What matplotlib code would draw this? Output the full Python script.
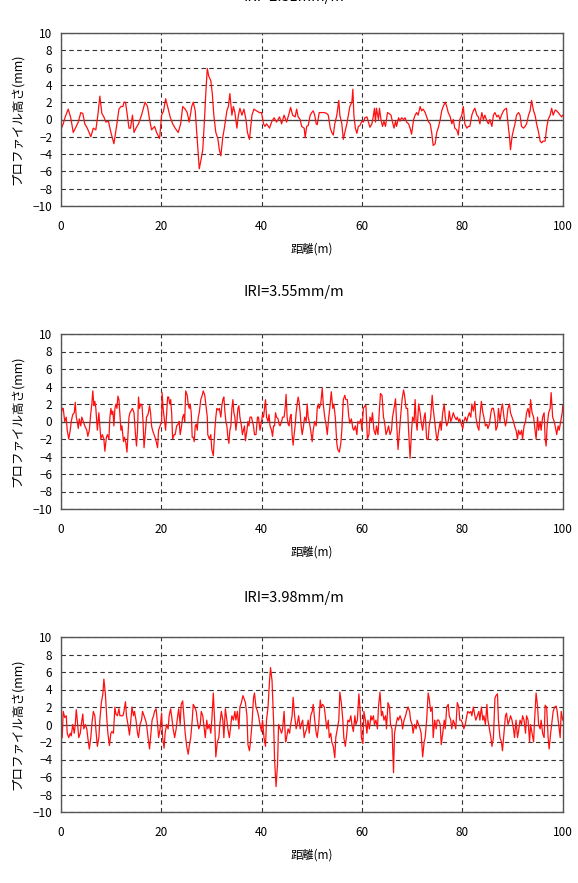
import matplotlib
matplotlib.use('Agg')
import matplotlib.pyplot as plt

plt.rcParams['font.family'] = ['Noto Sans CJK JP', 'DejaVu Sans']

# panel titles (the first one is cut off at the top edge in the source)
titles = ['IRI=2.31mm/m', 'IRI=3.55mm/m', 'IRI=3.98mm/m']
x_ticks = [0, 20, 40, 60, 80, 100]
y_ticks = [-10, -8, -6, -4, -2, 0, 2, 4, 6, 8, 10]

# profile 1 : distance (m) / height (mm)
dist_a = [0.0, 0.5, 0.9, 1.5, 2.0, 2.5, 3.1, 3.5, 4.0, 4.4,
          4.8, 5.3, 6.0, 6.5, 7.0, 7.4, 7.8, 8.2, 8.6, 9.0,
          9.5, 10.0, 10.6, 11.2, 11.6, 12.0, 12.4, 12.6, 12.9, 13.2,
          13.6, 13.9, 14.3, 14.6, 15.0, 15.5, 16.1, 16.8, 17.3, 17.7,
          18.1, 18.7, 19.1, 19.7, 20.1, 20.5, 20.9, 21.3, 21.8, 22.3,
          22.8, 23.4, 23.9, 24.3, 24.8, 25.2, 25.6, 26.1, 26.4, 26.8,
          27.1, 27.4, 27.6, 28.0, 28.3, 28.6, 28.9, 29.2, 29.5, 29.9,
          30.2, 30.5, 30.9, 31.3, 31.6, 31.9, 32.3, 32.6, 33.1, 33.4,
          33.7, 34.1, 34.4, 34.7, 35.1, 35.4, 35.7, 36.1, 36.5, 36.9,
          37.2, 37.6, 38.1, 38.5, 39.0, 39.6, 40.0, 40.4, 40.7, 41.0,
          41.6, 42.0, 42.5, 43.0, 43.6, 44.0, 44.5, 45.0, 45.4, 45.8,
          46.2, 46.7, 47.0, 47.3, 47.7,
          48.0, 48.5, 48.7, 49.0, 49.3, 49.7, 50.0, 50.3, 50.6, 50.9,
          51.1, 51.5, 52.0, 52.5, 53.0, 53.3, 53.7, 54.0, 54.3, 54.6,
          55.0, 55.4, 55.6, 56.0, 56.3, 56.6, 57.0, 57.3, 57.6, 58.0,
          58.2, 58.4, 58.7, 59.0, 59.3, 59.6, 60.0, 60.3, 60.6, 61.0,
          61.3, 61.6, 62.0, 62.3, 62.5, 62.7, 62.9, 63.3, 63.5, 63.8,
          64.1, 64.4, 64.7, 65.1, 65.4, 65.8, 66.1, 66.4, 66.7, 66.9,
          67.3, 67.6, 67.9, 68.3, 68.6, 68.9, 69.3, 69.6, 69.9, 70.3,
          70.6, 70.9, 71.2, 71.6, 71.9, 72.2, 72.6, 72.9, 73.2, 73.6,
          73.9, 74.2, 74.6, 74.9, 75.2, 75.6, 75.9, 76.2, 76.6, 76.9,
          77.2, 77.6, 77.9, 78.2, 78.5, 78.9, 79.2, 79.5, 79.9, 80.2,
          80.5, 80.9, 81.2, 81.5, 81.9, 82.2, 82.5, 82.9, 83.2, 83.5,
          83.9, 84.2, 84.5, 84.9, 85.2, 85.5, 85.9, 86.2, 86.5, 86.9,
          87.2, 87.5, 87.8, 88.2, 88.5, 88.8, 89.2, 89.4, 89.6, 89.9,
          90.2, 90.5, 90.8, 91.2, 91.5, 91.8, 92.2, 92.5, 92.8, 93.2,
          93.5, 93.8, 94.2, 94.5, 94.8, 95.2, 95.5, 95.8, 96.1, 96.5,
          96.8, 97.1, 97.5, 97.8, 98.1, 98.5, 98.8, 99.1, 99.5, 99.8,
          100.0]
height_a = [-1.2, -0.5, 0.3, 1.2, 0.2, -1.5, -0.8, -0.3, 0.8, 0.7,
            -0.5, -1.0, -2.0, -1.0, -1.2, 0.5, 2.7, 0.7, 0.3, -0.3,
            -0.2, -1.5, -2.8, -0.5, 1.2, 1.5, 1.5, 2.0, 2.0, 0.8,
            -1.0, -1.0, 0.5, -1.5, -1.0, -0.5, 0.5, 2.0, 1.5, 0.0,
            -1.2, -0.8, -1.5, -2.2, 0.5, 1.0, 2.4, 1.5, 0.3, -0.5,
            -1.0, -1.5, -0.5, 1.5, 1.2, 0.8, -0.3, 1.5, 2.0, 1.0,
            -1.5, -4.0, -5.7, -4.5, -3.5, -0.5, 3.0, 5.9, 5.0, 4.5,
            3.0, 0.5, -1.5, -2.2, -3.5, -4.2, -2.0, -1.0, 1.0, 1.5,
            3.0, 0.5, 1.5, 0.8, -1.0, 0.5, 1.3, 0.5, 1.2, 0.0,
            -1.5, -2.3, 0.5, 1.2, 1.0, 0.8, 0.8, -0.5, -0.8, -0.5,
            -1.0, -0.3, 0.2, -0.3, 0.3, -0.5, 0.5, -0.3, 0.5, 1.4,
            0.5, 0.3, 1.2, 0.3, 0.0,
            -0.8, -1.0, -2.1, -0.8, -0.7, 0.5, 0.8, 1.0, 0.5, -0.5,
            -0.6, 0.8, 0.8, 0.8, 0.7, 0.5, -1.0, -1.5, -1.8, -0.5,
            0.5, 2.2, 0.5, -0.5, -2.3, -1.5, -0.5, 0.5, 1.5, 2.0,
            3.5, 0.5, -1.0, -1.6, -0.8, -0.7, -0.2, -0.3, 0.2, 0.3,
            -0.3, -0.9, -0.5, 0.5, 1.3, -0.3, 1.3, 0.0, 1.3, 0.0,
            -0.8, -0.2, -0.8, 0.8, 0.7, 0.5, -0.3, -1.0, -0.2, -0.8,
            0.2, -0.2, 0.2, 0.0, 0.2, -0.3, -0.5, -1.0, -1.7, 0.0,
            0.5, 0.8, 0.5, 1.5, 1.0, 1.2, 0.8, 0.3, -0.2, -0.5,
            -1.5, -3.0, -2.8, -1.5, -1.0, 0.0, 1.0, 1.5, 2.0, 1.5,
            0.8, 0.3, -0.5, 0.0, -1.0, -1.2, -1.8, 0.0, 0.5, 1.5,
            -0.5, -1.0, -0.8, -0.8, 0.5, 1.0, 1.3, 0.5, 0.3, -0.5,
            0.8, 0.0, 0.5, -0.2, -0.5, 0.0, -0.8, 0.5, 0.8, 0.3,
            0.5, 0.0, 0.5, 1.0, 1.2, 1.3, -1.0, -2.0, -3.5, -2.0,
            -1.2, -0.5, 0.5, 0.8, 0.5, -0.8, -1.0, -0.8, -0.5, 0.5,
            1.0, 2.2, 1.0, 0.5, -0.5, -1.5, -2.5, -2.7, -2.5, -2.5,
            -1.0, 0.0, 0.5, 1.3, 0.5, 1.1, 1.0, 0.8, 0.5, 0.3,
            0.5]

# profile 2
dist_b = [0.0, 0.3, 0.5, 0.8, 1.1, 1.3, 1.6, 1.9, 2.1, 2.4,
          2.7, 2.9, 3.1, 3.3, 3.5, 3.7, 4.0, 4.2, 4.5, 4.8,
          5.2, 5.4, 5.7, 6.0, 6.2, 6.4, 6.6, 6.8, 7.0, 7.3,
          7.6, 7.8, 8.0, 8.3, 8.6, 8.8, 9.1, 9.3, 9.6, 9.8,
          10.0, 10.2, 10.4, 10.6, 10.8, 11.0, 11.2, 11.4, 11.6, 11.8,
          12.0, 12.2, 12.5, 12.7, 13.0, 13.2, 13.4, 13.6, 13.8, 14.1,
          14.3, 14.6, 14.9, 15.1, 15.3, 15.5, 15.7, 15.9, 16.2, 16.4,
          16.6, 16.9, 17.1, 17.4, 17.7, 17.9, 18.1, 18.3, 18.6, 18.9,
          19.1, 19.3, 19.5, 19.8, 20.1, 20.2, 20.4, 20.6, 20.9, 21.1,
          21.3, 21.5, 21.7, 21.9, 22.1, 22.3, 22.6, 22.8, 23.1, 23.4,
          23.6, 23.8, 24.0, 24.3, 24.5, 24.7, 24.9, 25.2, 25.4, 25.6,
          25.8, 26.0, 26.2, 26.4, 26.6, 26.8, 27.0, 27.2, 27.4, 27.6,
          27.9, 28.2, 28.4, 28.7, 29.0, 29.2, 29.3, 29.6, 29.9, 30.1,
          30.4, 30.7, 30.9, 31.1, 31.4, 31.6, 31.9, 32.1, 32.3, 32.5,
          32.7, 32.9, 33.1, 33.3, 33.5, 33.7, 33.9, 34.1, 34.3, 34.5,
          34.7, 34.9, 35.1, 35.3, 35.5, 35.7, 36.0, 36.2, 36.4, 36.6,
          36.8, 37.1, 37.3, 37.5, 37.7, 38.0, 38.2, 38.4, 38.6, 38.9,
          39.2, 39.4, 39.7, 40.0, 40.2, 40.4, 40.6, 40.8, 41.0, 41.3,
          41.5, 41.7, 42.0, 42.2, 42.4, 42.6, 42.8, 43.0, 43.3, 43.5,
          43.7, 44.0, 44.2, 44.5, 44.7, 44.9, 45.1, 45.3, 45.5, 45.7,
          45.9, 46.1, 46.3, 46.5, 46.7, 46.9, 47.1, 47.3, 47.5, 47.7,
          47.9, 48.1, 48.3, 48.6, 48.9, 49.1, 49.3, 49.5, 49.8, 50.1,
          50.3, 50.6, 50.9, 51.1, 51.3, 51.5, 51.8, 52.1, 52.3, 52.6,
          52.9, 53.1, 53.4, 53.6, 53.9, 54.2, 54.4, 54.7, 55.0, 55.2,
          55.5, 55.8, 56.0, 56.3, 56.6, 56.8, 57.1, 57.4, 57.6, 57.9,
          58.2, 58.4, 58.7, 59.0, 59.2, 59.5, 59.8, 60.0, 60.3, 60.6,
          60.8, 61.1, 61.4, 61.6, 61.9, 62.1, 62.4, 62.7, 62.9, 63.2,
          63.5, 63.7, 64.0, 64.3, 64.5, 64.8, 65.1, 65.3, 65.6, 65.9,
          66.1, 66.4, 66.7, 66.9, 67.2, 67.5, 67.7, 68.0, 68.3, 68.5,
          68.8, 69.1, 69.3, 69.6, 69.9, 70.1, 70.4, 70.6, 70.8, 71.0,
          71.3, 71.6, 71.8, 72.1, 72.4, 72.6, 72.9, 73.2, 73.4, 73.7,
          74.0, 74.2, 74.5, 74.8, 75.0, 75.3, 75.6, 75.8, 76.1, 76.4,
          76.6, 76.9, 77.2, 77.4, 77.7, 78.0, 78.2, 78.5, 78.8, 79.0,
          79.3, 79.5, 79.8, 80.1, 80.3, 80.6, 80.9, 81.1, 81.4, 81.7,
          81.9, 82.2, 82.5, 82.7, 83.0, 83.3, 83.5, 83.8, 84.1, 84.3,
          84.6, 84.9, 85.1, 85.4, 85.7, 85.9, 86.2, 86.5, 86.7, 87.0,
          87.2, 87.5, 87.8, 88.0, 88.3, 88.6, 88.8, 89.1, 89.4, 89.6,
          89.9, 90.2, 90.4, 90.7, 91.0, 91.2, 91.5, 91.8, 92.0, 92.3,
          92.6, 92.8, 93.1, 93.4, 93.6, 93.9, 94.2, 94.4, 94.7, 95.0,
          95.2, 95.5, 95.7, 96.0, 96.3, 96.5, 96.7, 96.9, 97.2, 97.5,
          97.7, 98.0, 98.3, 98.5, 98.8, 99.1, 99.3, 99.6, 99.9, 100.0]
height_b = [0.5, 1.5, 1.5, 0.0, 0.5, -1.0, -2.0, -1.0, 0.0, 0.8,
            1.0, 2.2, 0.5, 0.0, -0.8, 0.3, -0.5, 0.5, 0.0, -0.5,
            -1.0, -1.7, -1.0, 1.0, 2.0, 3.5, 1.8, 2.3, 1.5, -1.0,
            1.0, -0.5, -2.0, -1.5, -2.0, -3.4, -1.8, -1.5, -2.0, 0.5,
            1.5, 0.8, 1.2, -0.5, 1.5, 2.0, 1.5, 2.9, 2.5, 0.8,
            -1.0, -0.5, -2.3, -1.8, -2.5, -3.5, -1.5, 0.5, 1.0, 1.3,
            1.5, 1.0, -1.5, -2.8, -1.0, 2.8, 1.5, 2.0, 1.8, 0.0,
            -3.0, -1.0, 0.5, 0.8, 1.8, 1.0, -0.5, -1.0, -1.5, -2.0,
            -2.5, -3.0, -1.0, -0.5, 0.0, 3.3, 1.5, 0.5, -1.0, 1.0,
            2.8, 2.8, 2.0, 2.5, 1.0, -2.0, -1.5, -1.5, -0.5, -0.3,
            0.0, -1.5, -0.8, 0.5, 0.8, 0.0, 3.5, 3.0, 2.0, 1.5,
            2.0, 1.0, -1.8, -1.8, -2.3, -0.5, -0.3, -1.0, 0.5, 1.0,
            2.5, 3.0, 3.5, 3.0, 1.5, 0.5, -1.5, -2.0, -1.5, -3.2,
            -3.9, -1.0, 0.5, 1.5, 1.3, 1.5, 0.5, 1.8, 2.5, 2.8,
            1.2, 0.0, -0.5, -1.8, -2.5, -1.0, -0.5, 1.5, 2.5, 1.0,
            0.5, -1.0, 0.0, 1.5, 1.8, 0.5, -0.5, -1.5, -1.0, -0.5,
            -2.2, -1.0, 0.0, -0.5, 0.5, 0.5, 0.0, -0.5, -1.5, -1.5,
            0.5, 0.5, -1.0, 0.0, 0.8, 0.5, 1.5, 2.5, 0.5, 0.0,
            0.8, -0.5, -1.0, -1.7, -0.5, -0.5, 1.0, 0.5, 0.3, -0.3,
            -0.5, 0.0, 0.5, 0.5, 1.5, 3.1, 0.5, -0.3, -0.5, 0.5,
            0.8, -1.5, -2.7, -1.5, -0.5, 1.0, 2.0, 2.8, 2.2, 1.0,
            -0.5, -1.5, -0.8, 0.5, 0.0, 2.0, 0.5, 0.0, -1.0, -2.3,
            -1.0, 0.0, -0.5, 1.5, 2.0, 1.5, 2.0, 3.8, 2.0, 0.5,
            -0.5, -1.5, 0.5, 1.5, 3.4, 1.5, 2.0, 0.5, -2.5, -3.2,
            -3.5, -2.5, -1.0, 2.5, 3.0, 2.5, 2.5, 0.5, -0.2, 0.3,
            -0.8, -1.0, -0.5, -1.5, 0.0, -0.2, 0.3, -1.0, 1.5, 1.8,
            1.8, -2.0, -1.5, 0.5, 0.0, 1.0, -1.0, -1.5, -0.5, -1.5,
            1.5, 3.2, 3.0, 0.5, 0.0, -1.5, -1.0, -0.5, -1.5, -1.0,
            0.5, 1.5, 2.6, 0.0, -3.2, -1.0, 0.5, 2.5, 3.6, 3.0,
            1.5, 1.5, -1.0, -4.2, -1.0, 0.5, 0.0, 2.5, 0.0, -1.0,
            2.0, 1.0, 0.0, -1.0, 0.5, 1.0, -2.0, -2.0, -0.5, 0.5,
            3.0, 1.5, 0.0, -1.5, -2.2, -1.0, 0.0, -1.0, 1.0, 2.0,
            0.5, -0.5, 0.0, 1.2, 0.0, 0.5, 1.0, 0.5, 0.2, 0.5,
            0.0, 0.3, -0.3, -0.8, 0.0, 0.5, 0.0, 0.5, 1.0, 0.5,
            2.0, 1.2, 2.3, 0.5, -0.5, -1.0, 0.5, 2.3, 1.0, 0.5,
            -0.5, -0.3, -0.8, -0.3, 1.0, 1.5, 1.5, 0.5, -1.0, -0.5,
            1.5, 0.0, 1.5, 2.0, 0.5, -0.5, 0.0, 1.5, 2.0, 1.0,
            0.5, 0.0, -0.5, -1.0, -2.0, -1.0, -1.5, -1.0, -2.0, -0.5,
            0.0, 1.0, 1.5, 0.5, 2.5, 1.0, 0.5, -0.5, -2.0, 0.5,
            -1.0, 0.0, -1.0, 0.5, 1.0, -2.0, -2.8, -0.5, 1.0, 1.5,
            3.3, 0.5, 0.0, -0.5, -1.5, -0.5, -1.0, 0.0, 1.0, 1.8]

# profile 3
dist_c = [0.0, 0.3, 0.5, 0.8, 1.1, 1.3, 1.6, 1.9, 2.1, 2.4,
          2.7, 2.9, 3.1, 3.3, 3.6, 3.9, 4.1, 4.4, 4.6, 4.9,
          5.2, 5.4, 5.7, 6.0, 6.2, 6.5, 6.8, 7.0, 7.3, 7.6,
          7.8, 8.1, 8.4, 8.6, 8.9, 9.2, 9.4, 9.7, 10.0, 10.2,
          10.5, 10.8, 11.0, 11.3, 11.6, 11.8, 12.1, 12.4, 12.6, 12.9,
          13.1, 13.4, 13.7, 13.9, 14.2, 14.5, 14.7, 15.0, 15.3, 15.5,
          15.8, 16.1, 16.3, 16.6, 16.9, 17.1, 17.4, 17.7, 17.9, 18.2,
          18.5, 18.7, 19.0, 19.3, 19.5, 19.8, 20.1, 20.3, 20.6, 20.8,
          21.1, 21.4, 21.6, 21.9, 22.2, 22.4, 22.7, 23.0, 23.2, 23.5,
          23.8, 24.0, 24.3, 24.6, 24.8, 25.1, 25.4, 25.6, 25.9, 26.2,
          26.4, 26.7, 27.0, 27.2, 27.5, 27.8, 28.0, 28.3, 28.6, 28.8,
          29.1, 29.3, 29.6, 29.9, 30.1, 30.4, 30.7, 30.9, 31.2, 31.5,
          31.7, 32.0, 32.3, 32.5, 32.8, 33.1, 33.3, 33.6, 33.9, 34.1,
          34.4, 34.7, 34.9, 35.2, 35.5, 35.7, 36.0, 36.3, 36.5, 36.8,
          37.1, 37.3, 37.6, 37.8, 38.1, 38.4, 38.6, 38.9, 39.2, 39.4,
          39.7, 40.0, 40.2, 40.5, 40.8, 41.0, 41.3, 41.6, 41.8, 42.1,
          42.4, 42.6, 42.9, 43.2, 43.4, 43.7, 44.0, 44.2, 44.5, 44.8,
          45.0, 45.3, 45.6, 45.8, 46.1, 46.3, 46.6, 46.9, 47.1, 47.4,
          47.7,
          47.9, 48.2, 48.5, 48.7, 49.0, 49.3, 49.5, 49.8, 50.1, 50.3,
          50.6, 50.9, 51.1, 51.4, 51.7, 51.9, 52.2, 52.5, 52.7, 53.0,
          53.3, 53.5, 53.8, 54.0, 54.3, 54.6, 54.8, 55.1, 55.4, 55.6,
          55.9, 56.2, 56.4, 56.7, 57.0, 57.2, 57.5, 57.8, 58.0, 58.3,
          58.6, 58.8, 59.1, 59.4, 59.6, 59.9, 60.2, 60.4, 60.7, 61.0,
          61.2, 61.5, 61.8, 62.0, 62.3, 62.5, 62.8, 63.1, 63.3, 63.6,
          63.9, 64.1, 64.4, 64.7, 64.9, 65.2, 65.5, 65.7, 66.0, 66.3,
          66.5, 66.8, 67.1, 67.3, 67.6, 67.9, 68.1, 68.4, 68.7, 68.9,
          69.2, 69.5, 69.7, 70.0, 70.2, 70.5, 70.8, 71.0, 71.3, 71.6,
          71.8, 72.1, 72.4, 72.6, 72.9, 73.2, 73.4, 73.7, 74.0, 74.2,
          74.5, 74.8, 75.0, 75.3, 75.6, 75.8, 76.1, 76.4, 76.6, 76.9,
          77.2, 77.4, 77.7, 77.9, 78.2, 78.5, 78.7, 79.0, 79.3, 79.5,
          79.8, 80.1, 80.3, 80.6, 80.9, 81.1, 81.4, 81.7, 81.9, 82.2,
          82.5, 82.7, 83.0, 83.3, 83.5, 83.8, 84.1, 84.3, 84.6, 84.9,
          85.1, 85.4, 85.7, 85.9, 86.2, 86.5, 86.7, 87.0, 87.2, 87.5,
          87.8, 88.0, 88.3, 88.6, 88.8, 89.1, 89.4, 89.6, 89.9, 90.2,
          90.4, 90.7, 91.0, 91.2, 91.5, 91.8, 92.0, 92.3, 92.6, 92.8,
          93.1, 93.4, 93.6, 93.9, 94.2, 94.4, 94.7, 95.0, 95.2, 95.5,
          95.7, 96.0, 96.3, 96.5, 96.8, 97.1, 97.3, 97.6, 97.9, 98.1,
          98.4, 98.7, 98.9, 99.2, 99.5, 99.7, 100.0]
height_c = [0.5, -1.5, 1.5, 0.8, 1.0, -1.0, -1.5, -1.0, -1.3, 0.0,
            -1.0, 0.0, 1.7, 0.5, -1.5, -1.0, 0.0, 1.2, -0.5, 0.0,
            -0.5, -1.5, -2.8, -1.5, 0.0, 1.5, 1.0, -0.5, -2.5, -1.5,
            0.5, 2.5, 3.5, 5.2, 3.5, 0.5, -1.0, -2.4, -1.0, -0.8,
            -1.0, 2.0, 1.2, 1.0, 1.8, 1.0, 1.0, 1.0, 1.5, 2.6,
            1.0, 0.0, -1.2, 0.0, 2.0, 1.0, 1.5, 0.5, -1.0, -1.5,
            0.0, 0.5, 1.5, 1.0, 0.5, 0.0, -1.5, -2.8, -1.5, 0.5,
            1.0, 1.5, 1.8, 0.0, -1.5, -0.5, 1.3, -1.5, -2.7, -1.0,
            0.0, -0.5, 1.0, 1.8, 0.5, -0.5, -1.5, -0.5, 0.5, 1.8,
            0.0, 2.3, 2.7, 0.5, -1.0, -2.5, -3.4, -2.5, -1.5, 0.5,
            2.3, 2.0, 1.5, 0.5, -0.5, 0.0, 1.5, 1.0, -0.5, -1.5,
            0.5, -0.5, 0.0, -1.0, 0.5, 3.6, 0.0, -3.7, -2.0, -1.5,
            0.0, 1.5, 0.5, -1.5, 1.8, 0.5, -0.5, -1.5, 0.0, 1.0,
            0.5, 1.5, 0.5, 1.5, -0.5, 2.0, 2.5, 3.3, 3.0, 2.5,
            1.0, -2.3, -3.0, -2.0, 0.0, 3.0, 3.6, 2.0, 1.5, 1.0,
            0.0, -0.8, 0.5, -1.5, -2.5, 0.5, 2.0, 5.0, 6.5, 5.0,
            0.5, -4.0, -7.1, -4.5, 0.0, -0.5, -1.0, -0.5, 1.5, -2.0,
            -1.5, -0.5, -1.0, 0.0, 1.0, 3.1, 1.0, -0.5, 0.0, 1.0,
            -0.5,
            0.0, 0.5, -1.5, -1.0, -0.5, 0.5, -1.0, 1.0, 1.5, 2.3,
            0.5, -1.0, -1.5, 0.0, 2.8, 2.0, 2.3, 2.0, 1.0, -0.5,
            0.5, -1.5, -1.0, -2.0, -2.5, -3.8, -1.5, -0.5, 0.5, 3.7,
            2.5, 0.5, -1.5, -2.5, -1.0, 0.5, 0.3, 1.0, 0.0, -0.8,
            1.0, 0.0, 0.5, 3.5, 2.0, -1.5, -2.2, 1.5, 0.5, -1.0,
            0.5, -0.5, 1.0, 0.5, 1.0, 0.0, 0.5, -0.5, 2.0, 3.7,
            1.0, 1.5, 0.5, 1.0, -0.5, 2.5, 2.0, 0.0, -0.5, -5.5,
            -1.0, 0.0, 0.8, 0.5, 1.0, 0.5, -0.5, 0.5, 1.0, 1.5,
            2.0, 1.5, 0.5, 0.0, -1.0, 0.0, -0.5, 0.5, 0.0, -0.5,
            -1.0, -3.7, -2.0, -1.5, 0.5, 3.6, 3.0, 1.5, 2.0, -1.5,
            0.5, -0.5, 0.5, 0.5, 0.0, -2.3, -1.0, 0.5, -0.5, 2.0,
            2.3, 1.0, 0.5, -0.5, 0.5, 0.0, -0.5, 2.5, 2.0, 0.5,
            0.5, 0.0, -0.5, 0.0, 1.0, 1.5, 1.3, 1.5, 1.0, 2.0,
            1.0, 0.5, 1.0, 1.5, 0.5, 2.0, 0.5, 1.0, 0.0, 2.3,
            0.5, -0.5, -1.5, -2.5, -1.5, 3.0, 3.3, 3.5, 0.5, -1.5,
            -2.0, -3.0, -1.0, 1.0, 1.3, 0.0, 0.5, 1.0, 0.5, -0.5,
            -1.5, 0.5, -1.5, -0.8, 0.5, 0.0, 1.0, 0.5, -1.0, 1.0,
            0.5, -2.0, 0.0, -1.0, -2.0, 0.5, 3.6, 2.0, 0.0, -0.5,
            0.5, -1.0, -1.5, 2.2, 2.0, -1.5, -2.8, -1.0, 0.5, 1.5,
            2.0, 2.1, 1.5, 0.0, -1.5, 1.5, 0.5]

profiles = [(dist_a, height_a), (dist_b, height_b), (dist_c, height_c)]

fig = plt.figure(figsize=(5.78, 8.83), dpi=100)
W, H = 578.0, 883.0
left, right = 60.7, 562.7
tops = [33, 334, 637]
bottoms = [206, 509, 812]
title_y = [-3, 292, 598]   # centre of each title, pixels from the top

for i, (dist, height) in enumerate(profiles):
    ax = fig.add_axes([left / W, 1 - bottoms[i] / H,
                       (right - left) / W, (bottoms[i] - tops[i]) / H])
    ax.plot(dist, height, color='#ff1010', lw=0.9)
    ax.axhline(0, color='#444444', lw=0.9, zorder=1)
    ax.set_xlim(0, 100)
    ax.set_ylim(-10, 10)
    ax.set_xticks(x_ticks)
    ax.set_yticks(y_ticks)
    ax.set_yticklabels([str(t).replace('-', '\u2212') for t in y_ticks])
    ax.grid(True, color='#333333', linestyle=(0, (4, 3)), lw=0.8)
    ax.set_axisbelow(True)
    ax.tick_params(direction='in', length=3, width=0.6, labelsize=8.5,
                   color='#333333')
    ax.tick_params(axis='x', pad=10)
    ax.tick_params(axis='y', length=0, pad=6)
    for sp in ax.spines.values():
        sp.set_color('#555555')
        sp.set_linewidth(1.0)
    ax.set_xlabel('距離(m)', fontsize=8.5, labelpad=7)
    ax.set_ylabel('プロファイル高さ(mm)', fontsize=9, labelpad=6)
    fig.text(294 / W, 1 - title_y[i] / H, titles[i], ha='center',
             va='center', fontsize=10.5)

fig.savefig('out.png', dpi=100)
